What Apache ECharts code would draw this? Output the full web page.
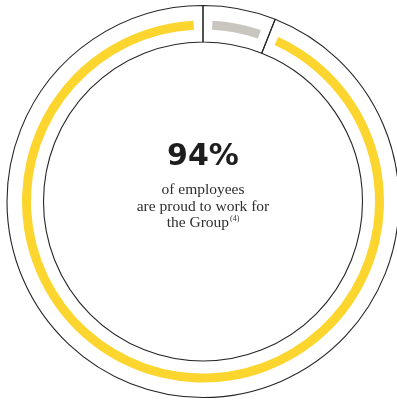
<!DOCTYPE html>
<html>
<head>
<meta charset="utf-8">
<script src="https://cdn.jsdelivr.net/npm/echarts@6/dist/echarts.min.js"></script>
<style>html,body{margin:0;padding:0;background:#fff;}#c{width:397px;height:401px;}</style>
</head>
<body>
<div id="c"></div>
<script>
var categories = ['Other', 'Proud to work for the Group'];
var shares = [6, 94];
var headline = '94%';
var captionLines = ['of employees', 'are proud to work for', 'the Group'];
var footnote = '(4)';

var colors = ['#c9c5bf', '#fcd62f'];
var cx = 203, cy = 201.5;

var ringData = categories.map(function (c, i) {
  return { name: c, value: shares[i], itemStyle: { color: colors[i] } };
});
var frameData = categories.map(function (c, i) {
  return { name: c, value: shares[i] };
});

var chart = echarts.init(document.getElementById('c'), null, { renderer: 'canvas' });
chart.setOption({
  animation: false,
  series: [
    {
      type: 'pie',
      silent: true,
      center: [cx, cy],
      radius: [159.5, 196],
      startAngle: 90,
      clockwise: true,
      label: { show: false },
      labelLine: { show: false },
      itemStyle: { color: 'rgba(0,0,0,0)', borderColor: '#262626', borderWidth: 1.1 },
      emphasis: { disabled: true },
      data: frameData
    },
    {
      type: 'pie',
      silent: true,
      center: [cx, cy],
      radius: [172, 181],
      startAngle: 90,
      clockwise: true,
      padAngle: 6,
      label: { show: false },
      labelLine: { show: false },
      itemStyle: { borderWidth: 0 },
      emphasis: { disabled: true },
      data: ringData
    }
  ],
  graphic: [
    {
      type: 'text',
      x: cx,
      y: 157,
      style: {
        text: headline,
        font: 'bold 30px "DejaVu Sans"',
        fill: '#1e1e1e',
        align: 'center',
        verticalAlign: 'middle'
      }
    },
    {
      type: 'text',
      x: cx,
      y: 190,
      style: {
        text: captionLines[0],
        font: '15.5px "Liberation Serif"',
        fill: '#2e2e2e',
        align: 'center',
        verticalAlign: 'middle'
      }
    },
    {
      type: 'text',
      x: cx,
      y: 206.5,
      style: {
        text: captionLines[1],
        font: '15.5px "Liberation Serif"',
        fill: '#2e2e2e',
        align: 'center',
        verticalAlign: 'middle'
      }
    },
    {
      type: 'text',
      x: cx,
      y: 223,
      style: {
        text: '{m|' + captionLines[2] + '}{s|' + footnote + '}',
        align: 'center',
        verticalAlign: 'middle',
        rich: {
          m: { font: '15.5px "Liberation Serif"', fill: '#2e2e2e', color: '#2e2e2e' },
          s: { font: '8px "Liberation Serif"', fill: '#2e2e2e', color: '#2e2e2e', verticalAlign: 'top', padding: [0, 0, 7, 1] }
        }
      }
    }
  ]
});
</script>
</body>
</html>
